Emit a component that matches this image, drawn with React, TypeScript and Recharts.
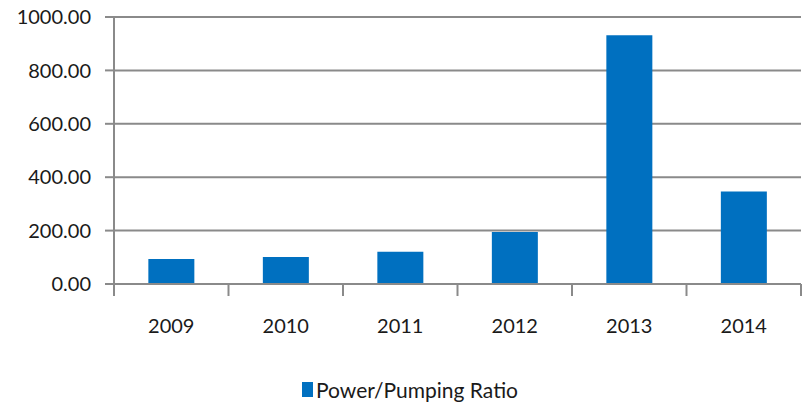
import React from 'react';
import { BarChart, Bar, XAxis, YAxis, CartesianGrid, Legend } from 'recharts';

const years = ['2009', '2010', '2011', '2012', '2013', '2014'];
const ratio = [94, 101, 121, 195, 932, 346];
const yTicks = [0, 200, 400, 600, 800, 1000];

const data = years.map((y, i) => ({ year: y, ratio: ratio[i] }));

const W = 805;
const H = 409;
const LEFT = 114;
const RIGHT_M = 4;
const PLOT_W = W - LEFT - RIGHT_M;
const GRID = '#8a8a8a';
const TEXT = '#1a1a1a';
const BLUE = '#0070C0';
const FONT = 'Lato, "Open Sans", sans-serif';

const XTick = (props: any) => {
  const { x, y, payload } = props;
  const band = PLOT_W / years.length;
  const last = payload.value === years[years.length - 1];
  return (
    <g>
      <line x1={x - band / 2} x2={x - band / 2} y1={y - 12} y2={y} stroke={GRID} strokeWidth={2} />
      {last && <line x1={x + band / 2} x2={x + band / 2} y1={y - 12} y2={y} stroke={GRID} strokeWidth={2} />}
      <text x={x} y={y + 37} textAnchor="middle" fill={TEXT} fontSize={20} fontFamily={FONT}>
        {payload.value}
      </text>
    </g>
  );
};

const LegendContent = () => (
  <div style={{ display: 'flex', justifyContent: 'center', alignItems: 'center', fontFamily: FONT, fontSize: 21, color: TEXT }}>
    <span style={{ display: 'inline-block', width: 11, height: 15, background: BLUE, marginRight: 3 }} />
    <span>Power/Pumping Ratio</span>
  </div>
);

export default function App() {
  return (
    <div style={{ position: 'absolute', left: 0, top: 0, background: '#fff' }}>
      <BarChart
        width={W}
        height={H}
        data={data}
        margin={{ top: 17, right: RIGHT_M, bottom: 65, left: 0 }}
        barCategoryGap="30%"
      >
        <CartesianGrid vertical={false} stroke={GRID} strokeWidth={2} />
        <XAxis
          dataKey="year"
          height={60}
          tickLine={false}
          tickSize={12}
          tickMargin={0}
          axisLine={{ stroke: GRID, strokeWidth: 2 }}
          tick={<XTick />}
          interval={0}
        />
        <YAxis
          width={LEFT}
          domain={[0, 1000]}
          ticks={yTicks}
          tickFormatter={(v: number) => v.toFixed(2)}
          tickSize={9}
          tickMargin={14}
          tickLine={{ stroke: GRID, strokeWidth: 2 }}
          axisLine={{ stroke: GRID, strokeWidth: 2 }}
          tick={{ fill: TEXT, fontSize: 20, fontFamily: FONT }}
          interval={0}
        />
        <Legend
          verticalAlign="middle"
          align="center"
          layout="horizontal"
          content={<LegendContent />}
          wrapperStyle={{ top: 377, left: 15, width: W - 15 }}
        />
        <Bar dataKey="ratio" name="Power/Pumping Ratio" fill={BLUE} isAnimationActive={false} />
      </BarChart>
    </div>
  );
}
